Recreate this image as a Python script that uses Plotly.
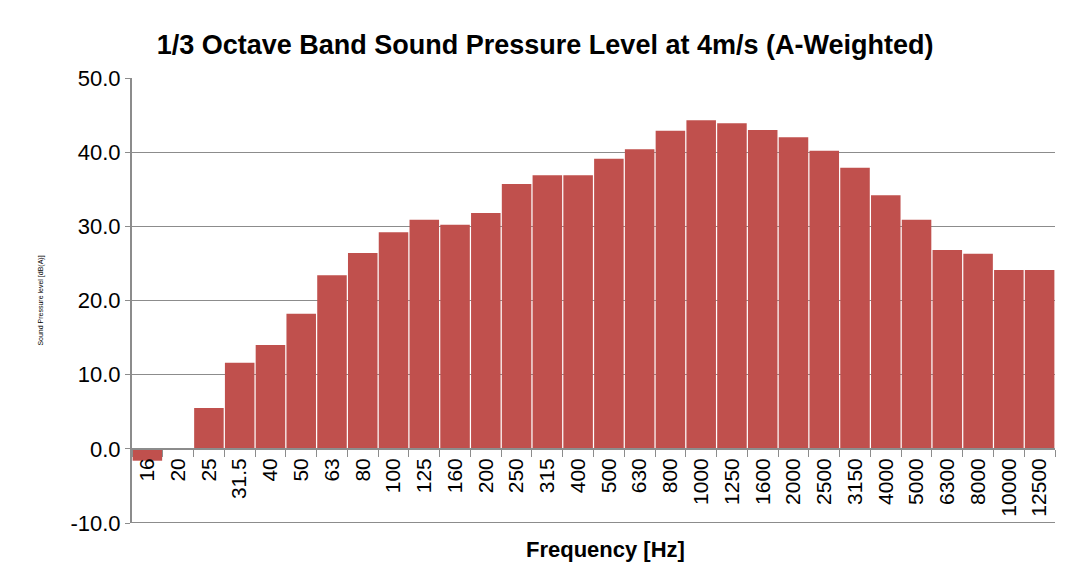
import plotly.graph_objects as go

freqs = ["16", "20", "25", "31.5", "40", "50", "63", "80", "100", "125", "160",
         "200", "250", "315", "400", "500", "630", "800", "1000", "1250", "1600",
         "2000", "2500", "3150", "4000", "5000", "6300", "8000", "10000", "12500"]
spl = [-1.6, None, 5.5, 11.6, 14.0, 18.2, 23.4, 26.4, 29.2, 30.9, 30.2,
       31.8, 35.7, 36.9, 36.9, 39.1, 40.4, 42.9, 44.3, 43.9, 43.0,
       42.0, 40.2, 37.9, 34.2, 30.9, 26.8, 26.3, 24.1, 24.1]
y_ticks = [-10, 0, 10, 20, 30, 40, 50]
y_tick_text = ["-10.0", "0.0", "10.0", "20.0", "30.0", "40.0", "50.0"]

FONT = "Arial, Liberation Sans, sans-serif"
GRID = "#8c8c8c"

fig = go.Figure(go.Bar(x=freqs, y=spl, marker=dict(color="#C0504D", line=dict(width=0))))

fig.update_layout(
    width=1072, height=573,
    margin=dict(l=124, r=25, t=70, b=58),
    paper_bgcolor="white", plot_bgcolor="white",
    bargap=0.04,
    showlegend=False,
    font=dict(family=FONT, color="black"),
    title=dict(text="<b>1/3 Octave Band Sound Pressure Level at 4m/s (A-Weighted)</b>",
               x=0.501, xanchor="center", y=0.937, yanchor="middle",
               font=dict(size=27, family=FONT, color="black")),
    xaxis=dict(type="category", anchor="free", position=1/6,
               tickson="boundaries", ticks="outside", ticklen=7, tickcolor=GRID,
               showline=True, linecolor=GRID, linewidth=2,
               showgrid=False, tickangle=-90,
               tickfont=dict(size=21, family=FONT, color="black")),
    yaxis=dict(range=[-10, 50], tickvals=y_ticks, ticktext=y_tick_text,
               showgrid=True, gridcolor=GRID, gridwidth=1,
               zeroline=True, zerolinecolor=GRID, zerolinewidth=2,
               showline=True, linecolor=GRID, linewidth=2,
               ticks="outside", ticklen=5, tickcolor=GRID,
               tickfont=dict(size=22, family=FONT, color="black"),
               title=dict(text="Sound Pressure level [dB(A)]", standoff=26,
                          font=dict(size=7, family=FONT, color="black"))),
    annotations=[dict(text="<b>Frequency [Hz]</b>", xref="paper", yref="paper",
                      x=0.5125, y=0, yshift=-26, showarrow=False, yanchor="middle",
                      font=dict(size=22, family=FONT, color="black"))],
    shapes=[dict(type="line", xref="paper", yref="y", x0=0, x1=1,
                 y0=y_ticks[0], y1=y_ticks[0], line=dict(color=GRID, width=2))],
)

fig.write_html("out.html")
